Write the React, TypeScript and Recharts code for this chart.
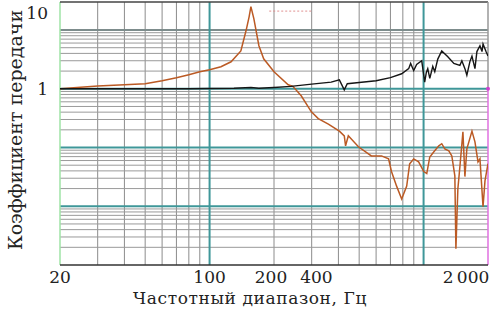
import React from 'react';
import { LineChart, Line, XAxis, YAxis, ReferenceLine, ReferenceDot } from 'recharts';

// частота, Гц -> коэффициент передачи
const baseFreq = [20, 30, 50, 80, 100, 130, 156, 170, 200, 240, 300, 370, 404, 426, 440, 500, 600, 700, 790, 852, 870, 899, 928, 980, 1012, 1030, 1046, 1069, 1104, 1128, 1165, 1216, 1298, 1385, 1478, 1510, 1560, 1593, 1646, 1683, 1738, 1775, 1834, 1875, 1896, 1958, 2000];
const baseGain = [1.0, 1.0, 1.0, 1.0, 1.01, 1.02, 1.05, 1.02, 1.05, 1.1, 1.2, 1.3, 1.42, 0.96, 1.22, 1.28, 1.37, 1.55, 1.8, 2.2, 2.7, 2.05, 2.6, 3.0, 1.3, 1.9, 2.2, 1.5, 2.4, 1.95, 3.2, 4.4, 3.5, 2.7, 2.5, 3.0, 2.2, 1.7, 2.9, 3.6, 2.2, 4.3, 5.4, 4.3, 5.8, 4.3, 3.6];

const resFreq = [20, 30, 40, 50, 60, 70, 80, 90, 100, 113, 126, 140, 148, 153, 156, 161, 170, 179, 200, 233, 245, 268, 299, 322, 359, 404, 426, 432, 445, 496, 570, 636, 686, 708, 748, 790, 834, 861, 899, 948, 1002, 1035, 1069, 1115, 1178, 1216, 1257, 1312, 1355, 1400, 1416, 1446, 1478, 1527, 1560, 1593, 1683, 1738, 1796, 1834, 1896, 1936, 2000];
const resGain = [1.0, 1.12, 1.17, 1.22, 1.37, 1.54, 1.73, 1.95, 2.11, 2.37, 2.88, 4.4, 9.7, 16.8, 25, 15.6, 5.4, 3.24, 1.95, 1.17, 1.1, 0.76, 0.405, 0.31, 0.25, 0.19, 0.158, 0.107, 0.158, 0.103, 0.072, 0.072, 0.064, 0.039, 0.022, 0.0133, 0.022, 0.053, 0.064, 0.057, 0.039, 0.036, 0.069, 0.084, 0.107, 0.116, 0.095, 0.088, 0.072, 0.033, 0.0019, 0.0197, 0.047, 0.185, 0.032, 0.095, 0.19, 0.125, 0.057, 0.064, 0.0098, 0.027, 0.053];

const markerFreq = [190, 305];
const markerGain = [21, 21];

const xTicks = [20, 100, 200, 400, 2000];
const xTickLabels = ['20', '100', '200', '400', '2\u2009000'];
const yTicks = [1, 10];
const yTickLabels = ['1', '10'];

const xMinor = [30, 40, 50, 60, 70, 80, 90, 200, 300, 400, 500, 600, 700, 800, 900];
const xMajor = [100, 1000];
const yMinor = [2, 3, 4, 5, 6, 7, 8, 9].flatMap(k => [k * 0.001, k * 0.01, k * 0.1, k]);
const yMajor = [0.01, 0.1, 1];

const toPoints = (fs: number[], vs: number[]) => fs.map((f, i) => ({ f, v: vs[i] }));
const baseData = toPoints(baseFreq, baseGain);
const resData = toPoints(resFreq, resGain);
const markerData = toPoints(markerFreq, markerGain);

const FONT = '"DejaVu Serif", "Liberation Serif", serif';

// label nudges copied from the original figure
const xShift: Record<number, number> = { 200: -3, 400: -22, 2000: -22 };
const yShift: Record<number, number> = { 10: -17 };

const XTick = (props: any) => {
  const { x, y, payload } = props;
  const i = xTicks.indexOf(payload.value);
  return (
    <text x={x + (xShift[payload.value] || 0)} y={y + 10} textAnchor="middle" fontFamily={FONT} fontSize={17} fill="#222">
      {xTickLabels[i]}
    </text>
  );
};

const YTick = (props: any) => {
  const { x, y, payload } = props;
  const i = yTicks.indexOf(payload.value);
  return (
    <text x={x} y={y + 6 + (yShift[payload.value] || 0)} textAnchor="end" fontFamily={FONT} fontSize={17} fill="#222">
      {yTickLabels[i]}
    </text>
  );
};

const App: React.FC = () => {
  return (
    <div style={{ position: 'absolute', left: 0, top: 0, width: 493, height: 314, background: '#fff' }}>
      <LineChart width={493} height={314} margin={{ top: 2, right: 5, bottom: 0, left: 0 }}>
        <XAxis
          dataKey="f"
          type="number"
          scale="log"
          domain={[20, 2000]}
          ticks={xTicks}
          interval={0}
          allowDataOverflow
          tickLine={false}
          axisLine={{ stroke: '#333', strokeWidth: 1.5 }}
          tick={<XTick />}
          height={49}
        />
        <YAxis
          dataKey="v"
          type="number"
          scale="log"
          domain={[0.001, 30]}
          ticks={yTicks}
          interval={0}
          allowDataOverflow
          tickLine={false}
          axisLine={false}
          tickMargin={6}
          tick={<YTick />}
          width={60}
        />
        {xMinor.map(f => (
          <ReferenceLine key={`xm${f}`} x={f} stroke="#8c8c8c" strokeWidth={1} />
        ))}
        {yMinor.map(v => (
          <ReferenceLine key={`ym${v}`} y={v} stroke="#9a9a9a" strokeWidth={1} />
        ))}
        <ReferenceLine y={10} stroke="#7d8c8c" strokeWidth={2} />
        {yMajor.map(v => (
          <ReferenceLine key={`yM${v}`} y={v} stroke="#3f9799" strokeWidth={2} />
        ))}
        {xMajor.map(f => (
          <ReferenceLine key={`xM${f}`} x={f} stroke="#3f9799" strokeWidth={2} />
        ))}
        <ReferenceLine x={20} stroke="#9fe3a6" strokeWidth={1.5} />
        <ReferenceLine y={30} stroke="#444" strokeWidth={1.5} />
        <ReferenceLine segment={[{ x: 2000, y: 1 }, { x: 2000, y: 30 }]} stroke="#999" strokeWidth={1.5} />
        <ReferenceLine segment={[{ x: 2000, y: 0.001 }, { x: 2000, y: 1 }]} stroke="#e070e0" strokeWidth={1.5} />
        <ReferenceDot x={2000} y={1} r={2} fill="#d040d0" stroke="none" />
        <Line data={markerData} dataKey="v" stroke="#e09090" strokeWidth={1} strokeDasharray="2 2" dot={false} isAnimationActive={false} />
        <Line data={resData} dataKey="v" stroke="#bb5a24" strokeWidth={1.5} dot={false} isAnimationActive={false} />
        <Line data={baseData} dataKey="v" stroke="#151515" strokeWidth={1.4} dot={false} isAnimationActive={false} />
      </LineChart>
      <div
        style={{
          position: 'absolute',
          left: 128,
          top: 291,
          width: 244,
          textAlign: 'center',
          fontFamily: FONT,
          fontSize: 17,
          letterSpacing: '0.6px',
          lineHeight: '14px',
          color: '#222',
          whiteSpace: 'nowrap',
        }}
      >
        Частотный диапазон, Гц
      </div>
      <div
        style={{
          position: 'absolute',
          left: 15,
          top: 130,
          transform: 'translate(-50%, -50%) rotate(-90deg)',
          fontFamily: FONT,
          fontSize: 19,
          color: '#222',
          whiteSpace: 'nowrap',
        }}
      >
        Коэффициент передачи
      </div>
    </div>
  );
};

export default App;
